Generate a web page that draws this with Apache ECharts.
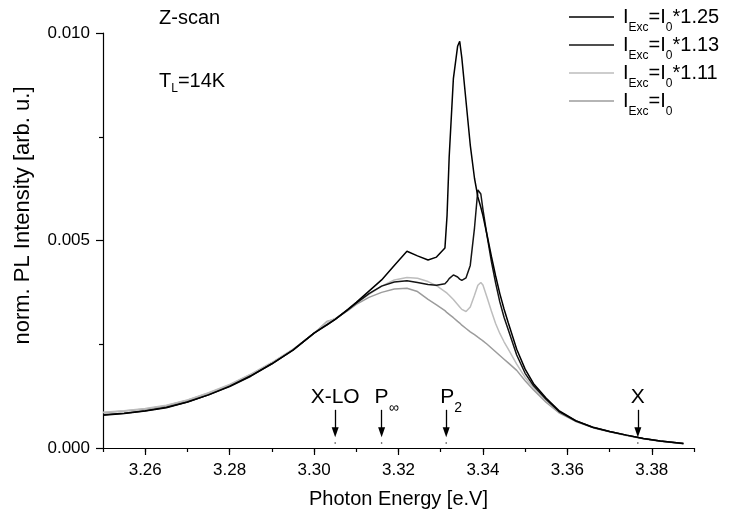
<!DOCTYPE html>
<html><head><meta charset="utf-8">
<script src="https://cdn.jsdelivr.net/npm/echarts@6/dist/echarts.min.js"></script>
<style>html,body{margin:0;padding:0;background:#fff}#c{width:731px;height:517px}</style>
</head><body><div id="c"></div>
<script>
// Photon energy grid [eV]
const energy = [3.250,3.255,3.260,3.265,3.270,3.275,3.280,3.285,3.290,3.295,
  3.300,3.303,3.305,3.308,3.310,3.313,3.316,3.319,3.322,3.3245,
  3.327,3.329,3.331,3.3315,3.332,3.333,3.334,3.3345,3.335,3.336,
  3.337,3.338,3.3388,3.3395,3.340,3.341,3.342,3.343,3.344,3.345,
  3.346,3.348,3.350,3.352,3.355,3.358,3.362,3.366,3.370,3.374,
  3.378,3.382,3.3875];
// norm. PL intensity for each excitation
const i125 = [0.00079,0.00083,0.00089,0.00097,0.00111,0.00128,0.00148,0.00173,0.00203,0.00236,
  0.00277,0.00296,0.00310,0.00334,0.00351,0.00378,0.00405,0.00440,0.00474,0.00463,
  0.00453,0.00460,0.00482,0.00560,0.00700,0.00890,0.00968,0.00980,0.00940,0.00835,
  0.00730,0.00650,0.00605,0.00580,0.00560,0.00512,0.00462,0.00415,0.00372,0.00335,
  0.00302,0.00238,0.00190,0.00155,0.00120,0.00090,0.00066,0.00050,0.00040,0.00031,
  0.00023,0.00017,0.00011];
const i113 = [0.00080,0.00084,0.00090,0.00098,0.00111,0.00128,0.00149,0.00174,0.00203,0.00236,
  0.00277,0.00297,0.00310,0.00333,0.00349,0.00372,0.00390,0.00400,0.00403,0.00399,
  0.00394,0.00392,0.00396,0.00401,0.00408,0.00417,0.00412,0.00407,0.00404,0.00410,
  0.00440,0.00530,0.00622,0.00612,0.00575,0.00510,0.00450,0.00398,0.00352,0.00315,
  0.00285,0.00224,0.00180,0.00150,0.00117,0.00088,0.00065,0.00050,0.00040,0.00031,
  0.00023,0.00017,0.00011];
const i111 = [0.00086,0.00090,0.00095,0.00103,0.00116,0.00133,0.00153,0.00178,0.00206,0.00238,
  0.00277,0.00303,0.00312,0.00333,0.00349,0.00370,0.00390,0.00405,0.00411,0.00409,
  0.00401,0.00391,0.00377,0.00373,0.00368,0.00358,0.00346,0.00340,0.00334,0.00329,
  0.00340,0.00368,0.00392,0.00399,0.00393,0.00362,0.00330,0.00300,0.00276,0.00256,
  0.00238,0.00202,0.00170,0.00145,0.00114,0.00087,0.00065,0.00050,0.00040,0.00031,
  0.00023,0.00017,0.00011];
const i100 = [0.00085,0.00089,0.00094,0.00102,0.00115,0.00132,0.00152,0.00177,0.00205,0.00237,
  0.00276,0.00305,0.00311,0.00331,0.00346,0.00363,0.00375,0.00383,0.00385,0.00377,
  0.00358,0.00345,0.00331,0.00326,0.00322,0.00314,0.00305,0.00301,0.00296,0.00288,
  0.00280,0.00273,0.00267,0.00262,0.00258,0.00250,0.00241,0.00232,0.00223,0.00214,
  0.00205,0.00187,0.00162,0.00140,0.00110,0.00085,0.00064,0.00049,0.00039,0.00030,
  0.00022,0.00016,0.00010];
const seriesNames = ['I_{Exc}=I_{0}*1.25','I_{Exc}=I_{0}*1.13','I_{Exc}=I_{0}*1.11','I_{Exc}=I_{0}'];
const xTickLabels = [3.26,3.28,3.30,3.32,3.34,3.36,3.38];
const yTickLabels = [0, 0.005, 0.010];
// marked transitions
const annotX = [3.305, 3.316, 3.3313, 3.3767];
const annotText = ['X-LO', 'P_{∞}', 'P_{2}', 'X'];

const FONT = 'Liberation Sans, Arial, sans-serif';
const toRich = s => '{n|' + s.replace(/_\{([^}]*)\}/g, '}{s|$1}{n|') + '}';
const pairs = ys => energy.map((x, i) => [x, ys[i]]);

const colors = ['#000000', '#141414', '#bdbdbd', '#9c9c9c'];
const values = [i125, i113, i111, i100];
const zs = [6, 5, 4, 3];

const lineSeries = seriesNames.map((n, k) => ({
  name: n, type: 'line', data: pairs(values[k]), showSymbol: false, symbol: 'none',
  z: zs[k], silent: true, lineStyle: { color: colors[k], width: 1.5 }, itemStyle: { color: colors[k] },
  emphasis: { disabled: true }
}));

const ARROW_TOP = 0.00092, ARROW_END = 0.00038, DOT_Y = 0.00012, LABEL_Y = 0.00123;
const annotSeries = {
  name: 'annot', type: 'scatter', silent: true, z: 7,
  data: annotX.map(x => [x, DOT_Y]), symbolSize: 1.6, itemStyle: { color: '#000' },
  markLine: {
    silent: true, animation: false,
    lineStyle: { color: '#000', width: 1.3, type: 'solid' },
    label: { show: false },
    data: annotX.map(x => [
      { coord: [x, ARROW_TOP], symbol: 'none' },
      { coord: [x, ARROW_END], symbol: 'triangle', symbolSize: [7, 10] }
    ])
  },
  markPoint: {
    silent: true, animation: false, symbol: 'rect', symbolSize: 1,
    itemStyle: { color: 'rgba(0,0,0,0)' },
    label: {
      show: true, position: 'inside', color: '#000',
      rich: {
        n: { fontSize: 21, fontFamily: FONT, color: '#000', lineHeight: 22 },
        s: { fontSize: 14, fontFamily: FONT, color: '#000', lineHeight: 14, padding: [22, 0, 0, 0] }
      }
    },
    data: annotX.map((x, i) => ({
      coord: [x, LABEL_Y],
      label: { formatter: toRich(annotText[i]), offset: annotText[i].indexOf('_') >= 0 ? [5, 0] : [0, 0] }
    }))
  }
};

const chart = echarts.init(document.getElementById('c'), null, { renderer: 'canvas' });
chart.setOption({
  animation: false,
  backgroundColor: '#fff',
  grid: { left: 103, right: 37, top: 33, bottom: 69, containLabel: false, outerBoundsMode: 'none' },
  legend: {
    data: seriesNames, orient: 'vertical', left: 569, top: 0, padding: 0,
    itemWidth: 45, itemHeight: 14, itemGap: -6, selectedMode: false,
    icon: 'path://M0,0L45,0L45,1.4L0,1.4Z',
    formatter: n => '{g| }' + toRich(n),
    textStyle: {
      color: '#000', fontFamily: FONT, fontSize: 20,
      rich: {
        g: { width: 4 },
        n: { fontSize: 20, fontFamily: FONT, color: '#000', lineHeight: 20 },
        s: { fontSize: 12, fontFamily: FONT, color: '#000', lineHeight: 12, padding: [22, 0, 0, 0] }
      }
    }
  },
  xAxis: [{
    type: 'value', min: 3.25, max: 3.39,
    name: 'Photon Energy [e.V]', nameLocation: 'middle', nameGap: 41,
    nameTextStyle: { fontSize: 20, fontFamily: FONT, color: '#000' },
    axisLine: { onZero: false, lineStyle: { color: '#000', width: 1.2 } },
    axisTick: { show: true, length: 7, customValues: xTickLabels, lineStyle: { color: '#000', width: 1.2 } },
    axisLabel: { customValues: xTickLabels, margin: 14, fontSize: 17, fontFamily: FONT, color: '#000',
      formatter: v => v.toFixed(2) },
    splitLine: { show: false }
  }, {
    type: 'value', min: 3.25, max: 3.39, interval: 0.01, position: 'bottom', gridIndex: 0,
    axisLine: { show: false, onZero: false },
    axisTick: { show: true, length: 4, lineStyle: { color: '#000', width: 1.2 } },
    axisLabel: { show: false }, splitLine: { show: false }
  }],
  yAxis: {
    type: 'value', min: 0, max: 0.010, interval: 0.005,
    name: 'norm. PL Intensity [arb. u.]', nameLocation: 'middle', nameGap: 69,
    nameTextStyle: { fontSize: 22, fontFamily: FONT, color: '#000', padding: [0, 0, 0, 50] },
    axisLine: { show: true, onZero: false, lineStyle: { color: '#000', width: 1.2 } },
    axisTick: { show: true, length: 7, lineStyle: { color: '#000', width: 1.2 } },
    minorTick: { show: true, splitNumber: 2, length: 4, lineStyle: { color: '#000', width: 1.2 } },
    axisLabel: { margin: 13, fontSize: 17, fontFamily: FONT, color: '#000', formatter: v => v.toFixed(3) },
    splitLine: { show: false }
  },
  graphic: [
    { type: 'text', left: 159, top: 8, silent: true,
      style: { text: 'Z-scan', font: '20px ' + FONT, fill: '#000' } },
    { type: 'text', left: 159, top: 68, silent: true,
      style: { text: '{n|T}{s|L}{n|=14K}', fill: '#000',
        rich: {
          n: { fontSize: 20, fontFamily: FONT, fill: '#000', lineHeight: 22 },
          s: { fontSize: 12, fontFamily: FONT, fill: '#000', lineHeight: 12, padding: [15, 0, 0, 0] }
        } } }
  ],
  series: lineSeries.concat([annotSeries])
});
</script></body></html>
